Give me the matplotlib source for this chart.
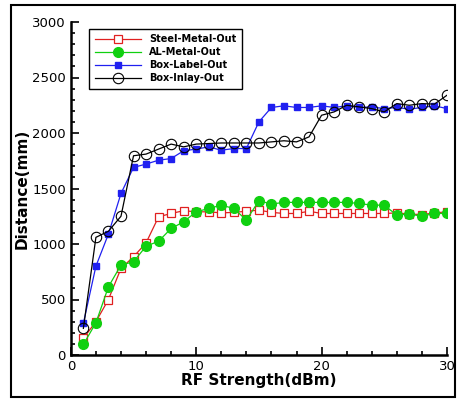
import matplotlib
matplotlib.use("Agg")
import matplotlib.pyplot as plt
from matplotlib.patches import Rectangle
from matplotlib.ticker import MultipleLocator

x = list(range(1, 31))
steel = [150, 300, 500, 780, 885, 1010, 1245, 1275, 1300, 1290,
         1290, 1280, 1285, 1295, 1305, 1285, 1275, 1275, 1295, 1275,
         1275, 1275, 1275, 1275, 1275, 1280, 1270, 1265, 1280, 1290]
al = [95, 290, 615, 810, 840, 980, 1025, 1140, 1200, 1290,
      1320, 1350, 1320, 1215, 1390, 1360, 1375, 1375, 1375, 1375,
      1375, 1375, 1365, 1350, 1350, 1260, 1270, 1250, 1275, 1275]
box_label = [285, 800, 1090, 1455, 1690, 1720, 1755, 1770, 1840, 1855,
             1875, 1845, 1860, 1860, 2100, 2230, 2245, 2230, 2230, 2245,
             2230, 2245, 2230, 2235, 2220, 2230, 2215, 2230, 2245, 2220]
box_inlay = [240, 1060, 1115, 1250, 1795, 1810, 1855, 1900, 1875, 1900,
             1905, 1910, 1910, 1910, 1910, 1920, 1930, 1920, 1965, 2160,
             2190, 2250, 2235, 2220, 2190, 2265, 2250, 2265, 2260, 2340]

fig = plt.figure(figsize=(4.57, 4.0), dpi=100)
ax = fig.add_axes([0.155, 0.1125, 0.823, 0.8325])

ax.plot(x, steel, color="#e02020", lw=0.9, marker="s", ms=5.5, mfc="white",
        mec="#e02020", mew=0.9, label="Steel-Metal-Out")
ax.plot(x, al, color="#10d010", lw=0.9, marker="o", ms=7, mfc="#10d010",
        mec="#10d010", label="AL-Metal-Out")
ax.plot(x, box_label, color="#2020f0", lw=0.9, marker="s", ms=5, mfc="#2020f0",
        mec="#2020f0", label="Box-Label-Out")
ax.plot(x, box_inlay, color="black", lw=0.9, marker="o", ms=7.5, mfc="none",
        mec="black", mew=0.8, label="Box-Inlay-Out")

ax.set_xlim(0, 30)
ax.set_ylim(0, 3000)
ax.xaxis.set_major_locator(MultipleLocator(10))
ax.xaxis.set_minor_locator(MultipleLocator(2))
ax.yaxis.set_major_locator(MultipleLocator(500))
ax.yaxis.set_minor_locator(MultipleLocator(100))
ax.tick_params(which="both", direction="in", width=1.2, labelsize=9.5)
ax.tick_params(which="major", length=6)
ax.tick_params(which="minor", length=3)
for s in ["top", "right"]:
    ax.spines[s].set_visible(False)
for s in ["left", "bottom"]:
    ax.spines[s].set_linewidth(1.8)

ax.set_xlabel("RF Strength(dBm)", fontsize=11, fontweight="bold", labelpad=0)
ax.set_ylabel("Distance(mm)", fontsize=11, fontweight="bold", labelpad=2)

leg = ax.legend(loc="upper left", bbox_to_anchor=(0.035, 0.995),
                prop={"weight": "bold", "size": 7}, fancybox=False,
                edgecolor="black", framealpha=1, handlelength=4.8,
                borderpad=0.6, labelspacing=0.3)
leg.get_frame().set_linewidth(1.0)

fig.patches.append(Rectangle((11 / 457, 3 / 400), 444 / 457, 392 / 400,
                             transform=fig.transFigure, fill=False,
                             edgecolor="black", lw=1.5))

fig.savefig("out.png", dpi=100)
